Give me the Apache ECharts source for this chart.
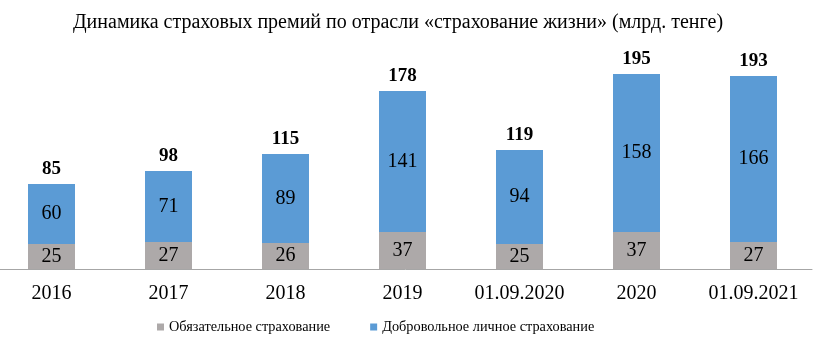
<!DOCTYPE html>
<html><head><meta charset="utf-8">
<script src="https://cdn.jsdelivr.net/npm/echarts@6/dist/echarts.min.js"></script>
<style>html,body{margin:0;padding:0;background:#fff}#c{width:819px;height:350px}</style>
</head><body><div id="c"></div>
<script>
const categories = ['2016','2017','2018','2019','01.09.2020','2020','01.09.2021'];
const mandatory = [25,27,26,37,25,37,27];
const voluntary = [60,71,89,141,94,158,166];
const totals = [85,98,115,178,119,195,193];
const seriesNames = ['Обязательное страхование','Добровольное личное страхование'];
const titleText = 'Динамика страховых премий по отрасли «страхование жизни» (млрд. тенге)';

const F = '"Liberation Serif","Times New Roman",serif';
const chart = echarts.init(document.getElementById('c'));
chart.setOption({
  animation:false,
  title:{text:titleText,left:393,top:8,textAlign:'center',textStyle:{fontFamily:F,fontSize:20,fontWeight:'normal',color:'#000'}},
  legend:{data:seriesNames,bottom:11,left:152,itemWidth:7,itemHeight:7,itemGap:40,icon:'rect',
    textStyle:{fontFamily:F,fontSize:14.3,color:'#000'}},
  grid:{left:-7,width:819,top:69,height:200,outerBoundsMode:'none',containLabel:false},
  xAxis:{type:'category',data:categories,axisTick:{show:false},
    axisLine:{lineStyle:{color:'#A6A6A6',width:1}},
    axisLabel:{fontFamily:F,fontSize:20,color:'#000',margin:15,interval:0}},
  yAxis:{type:'value',min:0,max:200,show:false,splitLine:{show:false}},
  series:[
    {name:seriesNames[0],type:'bar',stack:'a',data:mandatory,barWidth:47,
     itemStyle:{color:'#ADA9A9'},
     label:{show:true,position:'inside',fontFamily:F,fontSize:20,color:'#000'}},
    {name:seriesNames[1],type:'bar',stack:'a',data:voluntary,barWidth:47,
     itemStyle:{color:'#5B9BD5'},
     label:{show:true,position:'inside',fontFamily:F,fontSize:20,color:'#000'}},
    {name:'total',type:'bar',stack:'a',data:totals.map(()=>0),barWidth:47,
     itemStyle:{color:'transparent'},
     label:{show:true,position:'top',distance:5,fontFamily:F,fontSize:19,fontWeight:'bold',color:'#000',
       formatter:p=>totals[p.dataIndex]}}
  ]
});
</script></body></html>
